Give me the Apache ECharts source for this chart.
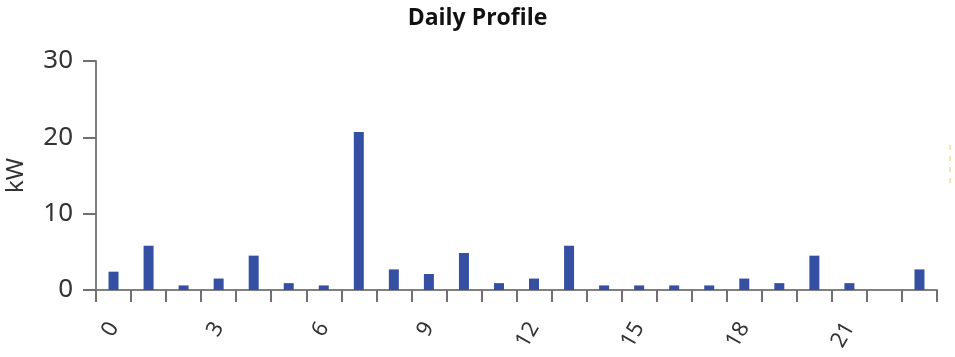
<!DOCTYPE html>
<html>
<head>
<meta charset="utf-8">
<script src="https://cdn.jsdelivr.net/npm/echarts@6/dist/echarts.min.js"></script>
<style>html,body{margin:0;padding:0;background:#fff;}#c{width:955px;height:357px;}</style>
</head>
<body>
<div id="c"></div>
<script>
var hours = ['0','1','2','3','4','5','6','7','8','9','10','11','12','13','14','15','16','17','18','19','20','21','22','23'];
var kw = [2.4, 5.8, 0.6, 1.5, 4.5, 0.9, 0.6, 20.7, 2.7, 2.1, 4.85, 0.9, 1.5, 5.8, 0.6, 0.6, 0.6, 0.6, 1.5, 0.9, 4.5, 0.9, 0, 2.7];
var yTicks = [0, 10, 20, 30];

var chart = echarts.init(document.getElementById('c'), null, {renderer: 'canvas'});
chart.setOption({
  animation: false,
  title: {
    text: 'Daily Profile', left: 'center', top: 2,
    textStyle: {fontFamily: 'Open Sans', fontWeight: 'bold', fontSize: 23, color: '#111'}
  },
  grid: {left: 96, right: 18, top: 61, bottom: 67, containLabel: false, outerBoundsMode: 'none'},
  xAxis: {
    type: 'category', data: hours, boundaryGap: true,
    axisLine: {lineStyle: {color: '#808080', width: 2}},
    axisTick: {show: true, alignWithLabel: false, interval: 0, length: 12, lineStyle: {color: '#707070', width: 2}},
    axisLabel: {interval: 2, rotate: 60, margin: 34, fontFamily: 'Noto Sans', fontSize: 22, color: '#333'}
  },
  yAxis: {
    type: 'value', min: yTicks[0], max: yTicks[yTicks.length - 1], interval: 10,
    name: 'kW', nameLocation: 'middle', nameGap: 68, nameRotate: 90,
    nameTextStyle: {fontFamily: 'Noto Sans', fontSize: 24, color: '#333'},
    axisLine: {show: true, lineStyle: {color: '#808080', width: 2}},
    axisTick: {show: true, length: 13, lineStyle: {color: '#707070', width: 2}},
    splitLine: {show: false},
    axisLabel: {margin: 23, fontFamily: 'Noto Sans', fontSize: 26, color: '#333'}
  },
  series: [{
    type: 'bar', data: kw, barWidth: 10,
    itemStyle: {color: '#3550a2'}
  }],
  graphic: [{
    type: 'line', shape: {x1: 950, y1: 145, x2: 950, y2: 186},
    style: {stroke: '#fde3b0', lineWidth: 2, lineDash: [5, 6]}
  }]
});
</script>
</body>
</html>
